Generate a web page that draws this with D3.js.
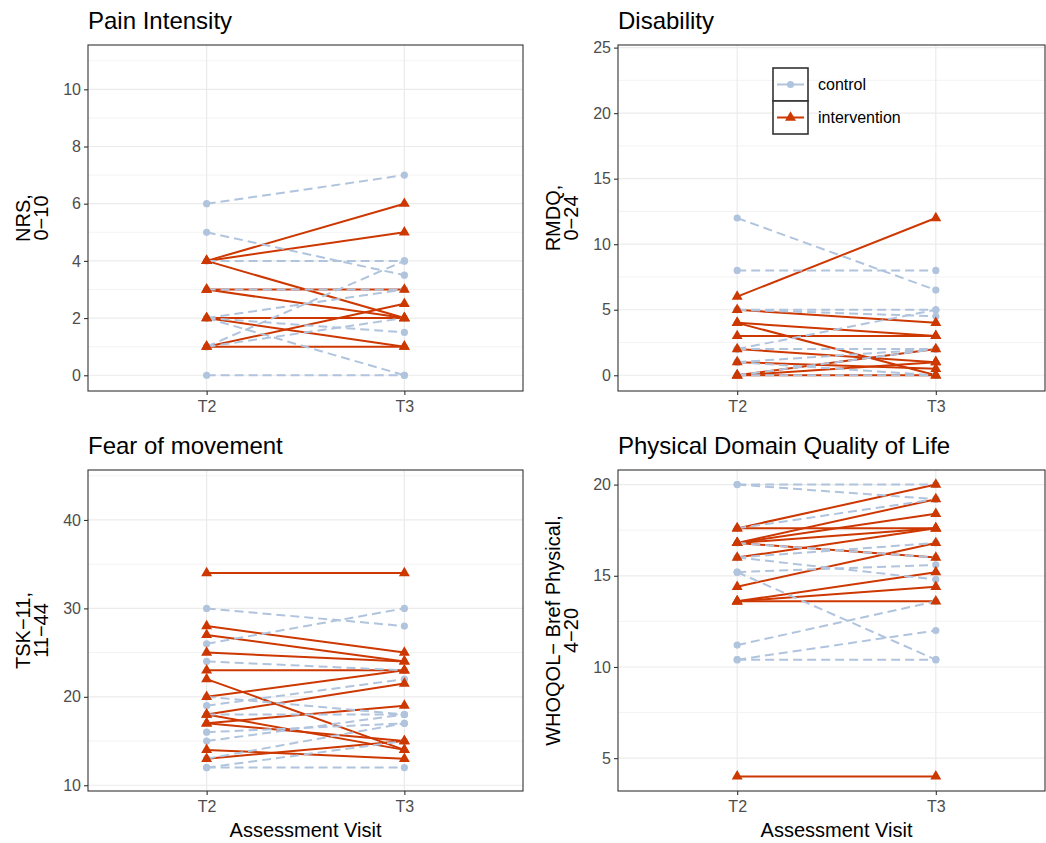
<!DOCTYPE html>
<html>
<head>
<meta charset="utf-8">
<script src="https://cdn.jsdelivr.net/npm/d3@7"></script>
<style>
  body { margin: 0; background: #fff; }
  text { font-family: "Liberation Sans", Arial, sans-serif; }
</style>
</head>
<body>
<svg id="chart" width="1046" height="843"></svg>
<script>
// Visits and groups
const visits = ["T2", "T3"];
const groups = ["control", "intervention"];

// Each pair is one participant: [score at T2, score at T3]
const painControl = [[6, 7], [5, 3.5], [4, 4], [3, 3], [2, 3], [2, 1.5], [2, 0], [1, 4], [1, 2], [0, 0]];
const painIntervention = [[4, 6], [4, 5], [4, 2], [3, 3], [3, 2], [2, 2], [2, 1], [1, 2.5], [1, 1]];

const disabilityControl = [[12, 6.5], [8, 8], [5, 4.5], [5, 5], [2, 5], [2, 2], [1, 2], [1, 0], [0, 0], [0, 2]];
const disabilityIntervention = [[6, 12], [5, 4], [4, 3], [4, 0], [3, 3], [2, 1], [1, 0.5], [0, 2], [0, 1], [0, 0]];

const fearControl = [[30, 28], [26, 30], [24, 23], [20, 18], [19, 22], [18, 18], [16, 17], [15, 18], [13, 17], [12, 15], [12, 12]];
const fearIntervention = [[34, 34], [28, 25], [27, 24], [25, 24], [23, 23], [22, 14], [20, 23], [18, 21.5], [18, 14], [17, 19], [17, 15], [14, 13], [13, 15]];

const qolControl = [[20, 20], [20, 19.2], [17.6, 19.2], [16, 16.8], [16.8, 16], [16, 14.8], [15.2, 15.6], [15.2, 10.4], [11.2, 13.6], [10.4, 12], [10.4, 10.4]];
const qolIntervention = [[17.6, 20], [16.8, 19.2], [16.8, 18.4], [17.6, 17.6], [16.8, 17.6], [16, 17.6], [16.8, 16], [14.4, 16.8], [13.6, 15.2], [13.6, 14.4], [13.6, 13.6], [4, 4]];

// Axis breaks
const painTicks = [0, 2, 4, 6, 8, 10];
const disabilityTicks = [0, 5, 10, 15, 20, 25];
const fearTicks = [10, 20, 30, 40];
const qolTicks = [5, 10, 15, 20];

const colors = { control: "#B0C4DE", intervention: "#CD3700" };

const panels = [
  { title: "Pain Intensity", yLabel: ["NRS,", "0\u221210"], domain: [-0.55, 11.55], ticks: painTicks,
    control: painControl, intervention: painIntervention,
    left: 88, right: 523, xEnd: 523, top: 45, bottom: 391, xTitle: false, legend: false },
  { title: "Disability", yLabel: ["RMDQ,", "0\u221224"], domain: [-1.2, 25.2], ticks: disabilityTicks,
    control: disabilityControl, intervention: disabilityIntervention,
    left: 618, right: 1045, xEnd: 1055, top: 45, bottom: 391, xTitle: false, legend: true },
  { title: "Fear of movement", yLabel: ["TSK\u221211,", "11\u221244"], domain: [9.35, 45.65], ticks: fearTicks,
    control: fearControl, intervention: fearIntervention,
    left: 88, right: 523, xEnd: 523, top: 470, bottom: 791, xTitle: true, legend: false },
  { title: "Physical Domain Quality of Life", yLabel: ["WHOQOL\u2212 Bref Physical,", "4\u221220"], domain: [3.2, 20.8], ticks: qolTicks,
    control: qolControl, intervention: qolIntervention,
    left: 618, right: 1045, xEnd: 1055, top: 470, bottom: 791, xTitle: true, legend: false }
];

const svg = d3.select("#chart");
const triangle = d3.symbol().type(d3.symbolTriangle).size(52);
const tickFont = "16px";

panels.forEach((p, i) => {
  const x = d3.scalePoint().domain(visits).range([p.left, p.xEnd]).padding(0.6);
  const y = d3.scaleLinear().domain(p.domain).range([p.bottom, p.top]);
  const g = svg.append("g");

  const clipId = "clip" + i;
  svg.append("clipPath").attr("id", clipId)
    .append("rect").attr("x", p.left).attr("y", p.top)
    .attr("width", p.right - p.left).attr("height", p.bottom - p.top);

  const plot = g.append("g").attr("clip-path", `url(#${clipId})`);

  // minor grid: midpoints between breaks
  const step = p.ticks[1] - p.ticks[0];
  const minor = [];
  for (let v = p.ticks[0] - step / 2; v <= p.domain[1]; v += step) {
    if (v >= p.domain[0]) minor.push(v);
  }
  plot.selectAll(".minor").data(minor).join("line")
    .attr("x1", p.left).attr("x2", p.right)
    .attr("y1", d => y(d)).attr("y2", d => y(d))
    .attr("stroke", "#EBEBEB").attr("stroke-width", 0.6);
  plot.selectAll(".majorY").data(p.ticks.filter(t => t >= p.domain[0] && t <= p.domain[1])).join("line")
    .attr("x1", p.left).attr("x2", p.right)
    .attr("y1", d => y(d)).attr("y2", d => y(d))
    .attr("stroke", "#EBEBEB").attr("stroke-width", 1.2);
  plot.selectAll(".majorX").data(visits).join("line")
    .attr("x1", d => x(d)).attr("x2", d => x(d))
    .attr("y1", p.top).attr("y2", p.bottom)
    .attr("stroke", "#EBEBEB").attr("stroke-width", 1.2);

  const line = d3.line().x((d, k) => x(visits[k])).y(d => y(d));

  // lines
  plot.selectAll(".lineI").data(p.intervention).join("path")
    .attr("d", d => line(d)).attr("fill", "none")
    .attr("stroke", colors.intervention).attr("stroke-width", 2);
  plot.selectAll(".lineC").data(p.control).join("path")
    .attr("d", d => line(d)).attr("fill", "none")
    .attr("stroke", colors.control).attr("stroke-width", 2)
    .attr("stroke-dasharray", "9,5");

  // points
  const ctrlPts = p.control.flatMap(d => d.map((v, k) => ({ v, k })));
  const intPts = p.intervention.flatMap(d => d.map((v, k) => ({ v, k })));
  plot.selectAll(".ptC").data(ctrlPts).join("circle")
    .attr("cx", d => x(visits[d.k])).attr("cy", d => y(d.v)).attr("r", 3.6)
    .attr("fill", colors.control);
  plot.selectAll(".ptI").data(intPts).join("path")
    .attr("d", triangle)
    .attr("transform", d => `translate(${x(visits[d.k])},${y(d.v)})`)
    .attr("fill", colors.intervention);

  // frame
  g.append("rect").attr("x", p.left).attr("y", p.top)
    .attr("width", p.right - p.left).attr("height", p.bottom - p.top)
    .attr("fill", "none").attr("stroke", "#333333").attr("stroke-width", 1.1);

  // axes
  const yAxis = d3.axisLeft(y).tickValues(p.ticks).tickSize(4).tickPadding(3);
  const ya = g.append("g").attr("transform", `translate(${p.left},0)`).call(yAxis);
  const xAxis = d3.axisBottom(x).tickSize(4).tickPadding(6);
  const xa = g.append("g").attr("transform", `translate(0,${p.bottom})`).call(xAxis);
  [ya, xa].forEach(a => {
    a.select(".domain").remove();
    a.selectAll(".tick line").attr("stroke", "#333333").attr("stroke-width", 1.1);
    a.selectAll(".tick text").attr("fill", "#4D4D4D").style("font-size", tickFont)
      .style("font-family", "'Liberation Sans', Arial, sans-serif");
  });

  // title
  g.append("text").attr("x", p.left).attr("y", p.top - 16)
    .style("font-size", "24px").attr("fill", "#000").text(p.title);

  // y axis title (two lines, rotated)
  const cy = (p.top + p.bottom) / 2;
  const yt = g.append("text")
    .attr("transform", `translate(${p.left - 58},${cy}) rotate(-90)`)
    .attr("text-anchor", "middle").style("font-size", "20px").attr("fill", "#000");
  p.yLabel.forEach((s, k) => {
    yt.append("tspan").attr("x", 0).attr("dy", k === 0 ? 0 : 17.5).text(s);
  });

  if (p.xTitle) {
    g.append("text").attr("x", (x(visits[0]) + x(visits[1])) / 2).attr("y", p.bottom + 46)
      .attr("text-anchor", "middle").style("font-size", "20px").attr("fill", "#000")
      .text("Assessment Visit");
  }

  if (p.legend) {
    const lg = g.append("g").attr("transform", "translate(773,68)");
    const keyW = 35, keyH = 33;
    groups.forEach((grp, k) => {
      const ky = k * keyH;
      lg.append("rect").attr("x", 0).attr("y", ky).attr("width", keyW).attr("height", keyH)
        .attr("fill", "#fff").attr("stroke", "#333333").attr("stroke-width", 1.6);
      lg.append("line").attr("x1", 4).attr("x2", keyW - 4)
        .attr("y1", ky + keyH / 2).attr("y2", ky + keyH / 2)
        .attr("stroke", colors[grp]).attr("stroke-width", 2);
      if (grp === "control") {
        lg.append("circle").attr("cx", keyW / 2).attr("cy", ky + keyH / 2).attr("r", 3.6)
          .attr("fill", colors[grp]);
      } else {
        lg.append("path").attr("d", triangle)
          .attr("transform", `translate(${keyW / 2},${ky + keyH / 2})`)
          .attr("fill", colors[grp]);
      }
      lg.append("text").attr("x", keyW + 10).attr("y", ky + keyH / 2 + 5.5)
        .style("font-size", tickFont).attr("fill", "#000").text(grp);
    });
  }
});
</script>
</body>
</html>
